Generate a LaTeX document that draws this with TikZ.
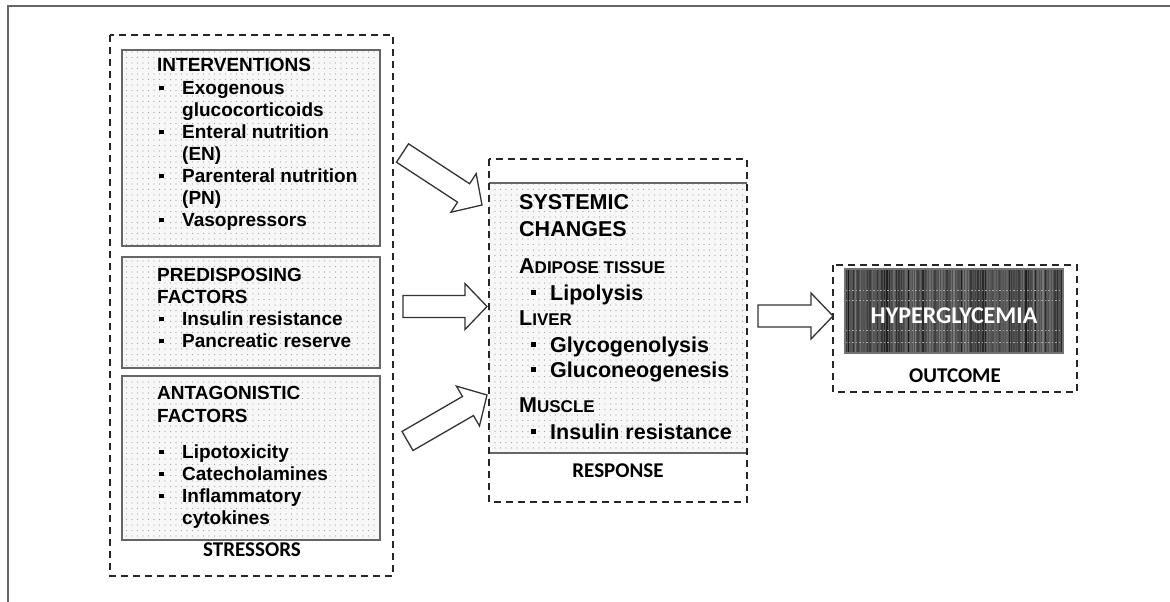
\documentclass[tikz,border=0pt]{standalone}
\usepackage{fontspec}
\setmainfont{Liberation Sans}
\newfontfamily\calfont{Carlito}
\usetikzlibrary{calc,patterns}
\pgfdeclarepatternformonly{mydots}{\pgfqpoint{-1pt}{-1pt}}{\pgfqpoint{1pt}{1pt}}{\pgfqpoint{5.5pt}{5.5pt}}{\pgfpathcircle{\pgfqpoint{0pt}{0pt}}{0.65pt}\pgfusepath{fill}}
\newcommand{\bu}{\makebox[23pt][l]{\raisebox{4pt}{\rule{4.5pt}{4.5pt}}}}
\newcommand{\bub}{\makebox[19.5pt][l]{\raisebox{5pt}{\rule{5pt}{5pt}}}}
\newcommand{\blockarr}[2]{%
  \coordinate (hb) at ($(#2)!22pt!(#1)$);
  \draw[barrow] ($(#1)!11pt!90:(#2)$) -- ($(hb)!11pt!90:(#2)$) -- ($(hb)!23pt!90:(#2)$) -- (#2)
    -- ($(hb)!23pt!-90:(#2)$) -- ($(hb)!11pt!-90:(#2)$) -- ($(#1)!11pt!-90:(#2)$) -- cycle;}
\begin{document}
\begin{tikzpicture}[x=1pt,y=-1pt,
  dashbox/.style={draw=black!85, line width=1.8pt, dash pattern=on 7pt off 5pt},
  dotbox/.style={draw=black!60, line width=1.5pt, preaction={fill=black!3}, pattern=mydots, pattern color=black!35},
  barrow/.style={draw=black!80, line width=1.3pt, fill=white, line join=miter},
  tA/.style={anchor=base west, inner sep=0pt, font=\fontsize{19}{22}\selectfont\bfseries},
  tB/.style={anchor=base west, inner sep=0pt, font=\fontsize{21.5}{26}\selectfont\bfseries},
  tS/.style={anchor=base west, inner sep=0pt, font=\fontsize{21.5}{26}\selectfont\bfseries},
  lab/.style={anchor=base, inner sep=0pt, font=\calfont\fontsize{21}{25}\selectfont\bfseries}]
\useasboundingbox (0,0) rectangle (1170,602);
% frame
\draw[black!60, line width=1.6pt] (8,602) -- (8,6) -- (1170,6);

% ---------- stressors ----------
\draw[dashbox] (110,35) rectangle (393,576);
\draw[dotbox] (122,50) rectangle (380,246);
\draw[dotbox] (122,257) rectangle (380,368);
\draw[dotbox] (122,376) rectangle (380,540);

\node[tA] (int0) at (157,72) {INTERVENTIONS};
\node[tA] (int1) at (159,94) {\bu Exogenous};
\node[tA] (int2) at (159,116) {\hspace*{23pt}glucocorticoids};
\node[tA] (int3) at (159,138) {\bu Enteral nutrition};
\node[tA] (int4) at (159,160) {\hspace*{23pt}(EN)};
\node[tA] (int5) at (159,182) {\bu Parenteral nutrition};
\node[tA] (int6) at (159,204) {\hspace*{23pt}(PN)};
\node[tA] (int7) at (159,226) {\bu Vasopressors};

\node[tA] (pre0) at (157,281) {PREDISPOSING};
\node[tA] (pre1) at (157,303) {FACTORS};
\node[tA] (pre2) at (159,325) {\bu Insulin resistance};
\node[tA] (pre3) at (159,347) {\bu Pancreatic reserve};

\node[tA] (ant0) at (157,399) {ANTAGONISTIC};
\node[tA] (ant1) at (157,422) {FACTORS};
\node[tA] (ant2) at (159,458) {\bu Lipotoxicity};
\node[tA] (ant3) at (159,480) {\bu Catecholamines};
\node[tA] (ant4) at (159,502) {\bu Inflammatory};
\node[tA] (ant5) at (159,524) {\hspace*{23pt}cytokines};

\node[lab] (stressors) at (252,556) {STRESSORS};

% ---------- response ----------
\path[preaction={fill=black!3}, pattern=mydots, pattern color=black!35] (489,183) rectangle (747,453);
\draw[black!60, line width=1.5pt] (489,183) -- (747,183);
\draw[black!60, line width=1.5pt] (489,453) -- (747,453);
\draw[dashbox] (489,159) rectangle (747,502);

\node[tB] (sys0) at (519,209) {SYSTEMIC};
\node[tB] (sys1) at (519,236) {CHANGES};
\node[tS] (sys2) at (519,273) {A{\fontsize{17}{20}\selectfont DIPOSE TISSUE}};
\node[tB] (sys3) at (530.5,300) {\bub Lipolysis};
\node[tS] (sys4) at (519,325) {L{\fontsize{17}{20}\selectfont IVER}};
\node[tB] (sys5) at (530.5,352) {\bub Glycogenolysis};
\node[tB] (sys6) at (530.5,377) {\bub Gluconeogenesis};
\node[tS] (sys7) at (519,412) {M{\fontsize{17}{20}\selectfont USCLE}};
\node[tB] (sys8) at (530.5,439) {\bub Insulin resistance};

\node[lab] (response) at (618,477) {RESPONSE};

% ---------- outcome ----------
\draw[dashbox] (833,265) rectangle (1077,392);
\begin{scope}
  \clip (845,269) rectangle (1063,353);
  \fill[black!68] (845,269) rectangle (1063,353);
  \pgfmathsetseed{11}
  \foreach \xx in {846,848.4,...,1062} {
    \pgfmathtruncatemacro\g{52+rnd*40}
    \draw[black!\g, line width=1.4pt] (\xx,269) -- (\xx,353);
  }
  \foreach \yy in {290,300,330,342} {
    \draw[black!35, line width=0.8pt, dash pattern=on 1.5pt off 2pt] (845,\yy) -- (1063,\yy);
  }
\end{scope}
\draw[black!55, line width=1.2pt] (845,269) rectangle (1063,353);
\node[lab, text=white, font=\calfont\fontsize{24}{28}\selectfont\bfseries] (hyper) at (954,323) {HYPERGLYCEMIA};
\node[lab] (outcome) at (955,382) {OUTCOME};

% ---------- arrows ----------
\coordinate (a1t) at (402.5,153); \coordinate (a1h) at (482,205);
\coordinate (a2t) at (403,306.5); \coordinate (a2h) at (487,306.5);
\coordinate (a3t) at (407.5,441); \coordinate (a3h) at (487,395);
\coordinate (a4t) at (758,316);   \coordinate (a4h) at (833,316);
\blockarr{a1t}{a1h}
\blockarr{a2t}{a2h}
\blockarr{a3t}{a3h}
\blockarr{a4t}{a4h}
\end{tikzpicture}
\end{document}
